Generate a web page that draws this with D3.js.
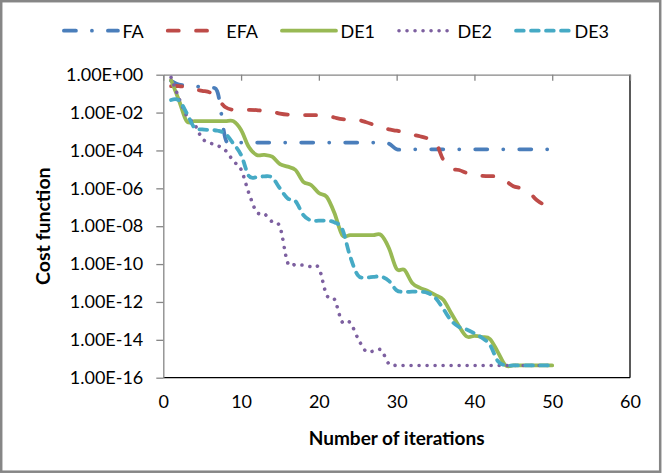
<!DOCTYPE html>
<html><head><meta charset="utf-8">
<script src="https://cdn.jsdelivr.net/npm/d3@7/dist/d3.min.js"></script>
<style>
body{margin:0;background:#fff}
svg{display:block}
text{font-family:Lato,"Open Sans",sans-serif;fill:#000}
</style>
</head><body>
<svg id="chart" width="664" height="475"></svg>
<script>
// ---------- data ----------
const iterations = [1,2,3,4,5,6,7,8,9,10,11,12,13,14,15,16,17,18,19,20,21,22,23,24,25,
                    26,27,28,29,30,31,32,33,34,35,36,37,38,39,40,41,42,43,44,45,46,47,48,49,50];
const seriesNames = ["FA","EFA","DE1","DE2","DE3"];
const FA  = [4.7e-1,3.0e-1,2.7e-1,2.5e-1,2.2e-1,1.9e-1,1.1e-1,4.0e-4,2.6e-4,2.6e-4,
             2.6e-4,2.6e-4,2.6e-4,2.6e-4,2.6e-4,2.6e-4,2.6e-4,2.6e-4,2.6e-4,2.6e-4,
             2.6e-4,2.6e-4,2.6e-4,2.6e-4,2.6e-4,2.6e-4,2.6e-4,2.6e-4,2.3e-4,1.15e-4,
             1.15e-4,1.15e-4,1.15e-4,1.15e-4,1.15e-4,1.15e-4,1.15e-4,1.15e-4,1.15e-4,1.15e-4,
             1.15e-4,1.15e-4,1.15e-4,1.15e-4,1.15e-4,1.15e-4,1.15e-4,1.15e-4,1.15e-4,1.15e-4];
const EFA = [2.5e-1,2.5e-1,2.2e-1,1.7e-1,1.4e-1,1.15e-1,5.2e-2,1.9e-2,1.4e-2,1.4e-2,
             1.4e-2,1.35e-2,1.2e-2,1.1e-2,8.9e-3,7.8e-3,7.4e-3,7.4e-3,7.4e-3,7.2e-3,
             6.8e-3,5.5e-3,4.5e-3,4.2e-3,4.1e-3,3.2e-3,2.3e-3,1.6e-3,1.3e-3,1.1e-3,
             8.9e-4,6.9e-4,5.6e-4,4.3e-4,2.8e-4,3.2e-5,1.1e-5,9.3e-6,6.5e-6,4.8e-6,
             4.5e-6,4.4e-6,4.1e-6,2.5e-6,1.3e-6,1.0e-6,6.5e-7,2.4e-7,1.4e-7,1.4e-7];
const DE1 = [5.2e-1,4.6e-2,3.5e-3,3.5e-3,3.5e-3,3.5e-3,3.5e-3,3.5e-3,3.5e-3,1.2e-3,
             1.5e-4,5.8e-5,5.8e-5,4.7e-5,1.9e-5,1.4e-5,9.3e-6,2.2e-6,1.5e-6,5.6e-7,
             3.6e-7,5.0e-8,3.4e-9,3.4e-9,3.4e-9,3.4e-9,3.4e-9,3.4e-9,7.1e-10,5.5e-11,
             4.9e-11,1.0e-11,5.5e-12,3.8e-12,2.3e-12,1.3e-12,2.6e-13,5.4e-14,1.5e-14,1.6e-14,
             1.4e-14,1.1e-14,2.3e-15,4.44e-16,4.44e-16,4.44e-16,4.44e-16,4.44e-16,4.44e-16,4.44e-16];
const DE2 = [7.2e-1,5.9e-2,7.0e-3,2.5e-3,4.3e-4,2.5e-4,1.8e-4,1.0e-4,2.8e-5,9.8e-6,
             5.6e-7,5.6e-8,4.5e-8,1.7e-8,9.1e-9,1.15e-10,9.5e-11,8.7e-11,7.2e-11,6.2e-11,
             2.3e-12,1.4e-12,8.7e-14,8.3e-14,1.25e-14,2.6e-15,2.5e-15,2.9e-15,5.4e-16,4.44e-16,
             4.44e-16,4.44e-16,4.44e-16,4.44e-16,4.44e-16,4.44e-16,4.44e-16,4.44e-16,4.44e-16,4.44e-16,
             4.44e-16,4.44e-16,4.44e-16,4.44e-16,4.44e-16,4.44e-16,4.44e-16,4.44e-16,4.44e-16,4.44e-16];
const DE3 = [4.6e-2,4.4e-2,9.5e-3,1.6e-3,1.3e-3,1.2e-3,1.1e-3,7.4e-4,2.3e-4,5.8e-5,
             4.5e-6,3.8e-6,4.3e-6,3.7e-6,9.8e-7,2.9e-7,2.1e-7,3.9e-8,2.0e-8,1.95e-8,
             1.95e-8,1.6e-8,7.1e-9,2.7e-10,2.6e-11,1.95e-11,2.1e-11,2.2e-11,1.3e-11,4.1e-12,
             3.4e-12,3.5e-12,3.5e-12,3.0e-12,1.6e-12,4.3e-13,1.05e-13,4.8e-14,3.5e-14,2.2e-14,
             1.25e-14,5.4e-15,7.6e-16,4.44e-16,4.44e-16,4.44e-16,4.44e-16,4.44e-16,4.44e-16,4.44e-16];
const xTicks = [0,10,20,30,40,50,60];
const yTicks = [1e0,1e-2,1e-4,1e-6,1e-8,1e-10,1e-12,1e-14,1e-16];
const xTitle = "Number of iterations";
const yTitle = "Cost function";

// ---------- styles ----------
const seriesValues = [FA, EFA, DE1, DE2, DE3];
const colors = ["#4A7EBB","#BE4B48","#98B954","#7D60A0","#46AAC5"];
const dashes = ["12,16,0.01,16", "11,17.3", null, "0.01,8", "7.7,7.3"];
const widths = [3.8,3.8,3.8,3.6,3.8];

// ---------- layout ----------
const svg = d3.select("#chart");
const W = 664, H = 475;
const L = 163.3, R = 630, T = 74.7, B = 377.7;

svg.append("rect").attr("x",1.2).attr("y",1.2).attr("width",W-5).attr("height",H-4.5)
  .attr("fill","#fff").attr("stroke","#868686").attr("stroke-width",2.5);

const x = d3.scaleLinear().domain([0,60]).range([L,R]);
const y = d3.scaleLog().domain([1e-16,1]).range([B,T]);

const fmt = d => {
  const e = Math.round(Math.log10(d));
  return "1.00E" + (e >= 0 ? "+" : "-") + String(Math.abs(e)).padStart(2,"0");
};

// plot area border (black on bottom/right)
svg.append("line").attr("x1",L).attr("x2",R).attr("y1",B).attr("y2",B)
  .attr("stroke","#000").attr("stroke-width",1.3);
svg.append("line").attr("x1",R).attr("x2",R).attr("y1",T).attr("y2",B)
  .attr("stroke","#000").attr("stroke-width",1.3);

// y axis
const gy = svg.append("g").attr("transform",`translate(${L},0)`)
  .call(d3.axisLeft(y).tickValues(yTicks).tickFormat(fmt).tickSize(7).tickSizeOuter(0).tickPadding(13));
gy.select(".domain").attr("stroke","#868686").attr("stroke-width",1.3);
gy.selectAll(".tick line").attr("stroke","#868686").attr("stroke-width",1.3);
gy.selectAll(".tick text").style("font-size","18px").style("font-family","Lato").attr("fill","#000");

// x axis line with ticks at top (crosses at 1E+00)
const gxTop = svg.append("g").attr("transform",`translate(0,${T})`)
  .call(d3.axisBottom(x).tickValues(xTicks).tickFormat("").tickSize(6).tickSizeOuter(0));
gxTop.select(".domain").attr("stroke","#868686").attr("stroke-width",1.3);
gxTop.selectAll(".tick line").attr("stroke","#868686").attr("stroke-width",1.3);

// x labels at bottom
const gxLab = svg.append("g").attr("transform",`translate(0,${B})`)
  .call(d3.axisBottom(x).tickValues(xTicks).tickFormat(d3.format("d")).tickSize(0).tickPadding(18));
gxLab.select(".domain").remove();
gxLab.selectAll(".tick text").style("font-size","18px").style("font-family","Lato").attr("fill","#000");

// titles
svg.append("text").attr("x",(L+R)/2).attr("y",437).attr("text-anchor","middle")
  .attr("dominant-baseline","central").style("font-weight","bold").style("font-size","19px").text(xTitle);
svg.append("text").attr("transform",`translate(42,${(T+B)/2}) rotate(-90)`).attr("text-anchor","middle")
  .attr("dominant-baseline","central").style("font-weight","bold").style("font-size","19.5px").text(yTitle);

// series
const line = d3.line().x(d => x(d[0])).y(d => y(d[1])).curve(d3.curveCardinal.tension(0));
seriesValues.forEach((vals, i) => {
  const pts = iterations.map((it, k) => [it, vals[k]]);
  svg.append("path").attr("d", line(pts)).attr("fill","none")
    .attr("stroke", colors[i]).attr("stroke-width", widths[i])
    .attr("stroke-linecap","round").attr("stroke-linejoin","round")
    .attr("stroke-dasharray", dashes[i]);
});

// legend
const lg = svg.append("g");
const LY = 30.7, lineLen = 54, textOff = 60.5, gap = 22;
const items = [];
seriesNames.forEach((n, i) => {
  const g = lg.append("g");
  g.append("line").attr("x1",2).attr("x2",2+lineLen).attr("y1",LY).attr("y2",LY)
    .attr("stroke",colors[i]).attr("stroke-width",widths[i]).attr("stroke-linecap","round")
    .attr("stroke-dasharray",dashes[i]);
  const t = g.append("text").attr("x",textOff).attr("y",LY).attr("dominant-baseline","central")
    .style("font-size","18px").text(n);
  items.push({g, w: textOff + t.node().getComputedTextLength()});
});
const total = d3.sum(items, d => d.w) + gap*(items.length-1);
let start = 335.5 - total/2;
items.forEach(it => { it.g.attr("transform",`translate(${start},0)`); start += it.w + gap; });
</script>
</body></html>
